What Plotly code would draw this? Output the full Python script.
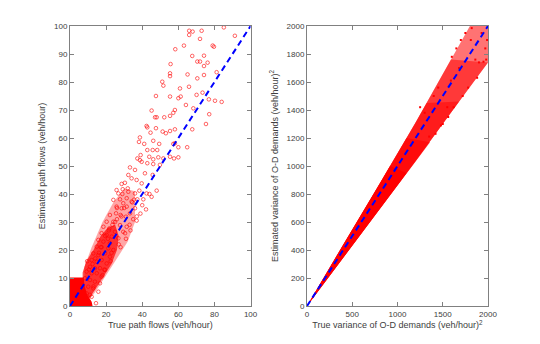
import plotly.graph_objects as go

# ---- left panel: path flows (veh/hour) ----
# single points
flow_true = [85.2, 91.3, 66, 67.9, 72.9, 66, 72, 63.1, 58.3, 79, 79.7, 67.7, 74.2, 70.5, 72, 76.2,
             74.2, 55.7, 55.4, 55.4, 65.1, 81.2, 74.2, 70.5, 51.1, 51.7, 60.9, 65.9, 55.4, 60, 61.3,
             70.1, 73.4, 76.9, 80.3, 84, 47.6, 64.2, 68.3, 45.2, 58.1, 57.2, 48, 47.1, 52.2, 55.4,
             77.1, 75.3, 67.7, 42.4, 42.8, 47.6, 44.6, 55.4, 58.1, 51.3, 53.1, 38.7, 38.2, 41.1,
             46.1, 49.4, 57.2, 58.1, 64.9, 60, 45.8, 42.8, 48.3, 37.3, 39.1, 39.7, 43.9, 46.1, 48.9,
             51.7, 55.4, 57.6, 60,
             38.7, 42.8, 33.2, 36, 41.5, 46.1, 49.8, 32.3, 28.6, 30.4, 34.1, 36.9, 39.7, 45.8, 25.8,
             29.2, 26.8, 32.3, 36, 38.4, 45.2, 48, 42.4, 24, 27.7, 31.4, 34.1, 37.3, 40.6, 29.5, 25.8,
             28.6, 31.4, 36, 42.1, 25.5, 28, 22.1, 31, 33.2, 36.9, 20.3, 24, 27.7, 31.4, 18.5, 21.8,
             24.9, 29.5, 17.5, 20.3, 23.1, 26.8, 15.7, 18.5, 22.1, 14.8, 17.5, 21.2, 24, 12.9, 15.7,
             19.4, 22.1, 12, 14.8, 17.5, 20.3, 11.1, 13.8, 16.6, 19.4, 9.2, 12, 14.8, 17.5, 8.3, 11.1,
             13.8, 16.6, 10.1, 12.9, 15.7, 9.2, 12, 10.1, 14.4,
             21, 23, 19, 26, 30, 33, 35, 27, 22.5, 16, 18, 13, 11, 25, 28.5, 34.5, 39, 44, 30.5, 21.5,
             32, 29, 35.5, 37, 40, 26, 23.5, 19.5, 17, 14, 12.5, 10.5, 9.5, 33.5, 31, 28]
flow_est = [99.5, 96.5, 98.3, 98, 98.3, 96.8, 95.4, 93, 91.7, 93, 92.6, 89.3, 89.4, 87.3, 87.3, 86.9,
            85.7, 86.4, 83.1, 82.1, 82.7, 83.5, 82.5, 81.3, 80.1, 78.7, 77.7, 78.3, 74.8, 74.2, 74.8,
            75.4, 76.2, 73.8, 73.3, 72.9, 75, 71.8, 70.6, 69.8, 70, 69, 67.4, 67.4, 67.4, 67.9,
            68.5, 65, 63.1, 64.3, 63.8, 63.5, 61.9, 62.5, 63.1, 62.3, 61.7, 60.2, 58.6, 57.9,
            59, 57.9, 57.9, 58.1, 56.7, 56.7, 55.7, 55.7, 55.7, 52.7, 53.9, 51.5, 53.3, 52.4, 53.1,
            52.7, 53.3, 52.7, 53.1,
            52.1, 51, 49.5, 48.6, 47.4, 50.7, 50.4, 46.8, 43.6, 44, 45.6, 45, 43.8, 46.8, 41.4,
            41.7, 40.2, 40.8, 40.2, 41.2, 39, 41.2, 40.2, 37.9, 38.1, 38.5, 37.3, 38.1, 38.1, 36.7, 35.5,
            34.9, 35.5, 34.9, 34.5, 33.1, 32.5, 32.5, 31.9, 33.1, 30.5, 30.1, 30.1, 28.9, 28.3, 28.3, 27.7,
            26.5, 26.5, 26, 25.4, 24.8, 24.2, 23.6, 23, 22.4, 21.2, 21, 20.6, 20, 18.8, 18.2,
            18.8, 17.6, 16.4, 15.8, 16.4, 15.2, 14, 13.5, 13.5, 12.9, 12.3, 11.7, 11.7, 10.5, 9.9, 9.3,
            8.7, 8.1, 6.9, 6.3, 5.1, 4.5, 3.3, 1.5, 1,
            24, 19, 13, 31, 35, 29, 31, 22, 16, 19, 11, 7, 4, 30, 32, 37, 33, 40, 26, 27,
            42, 40, 38, 32, 36, 35, 29, 25, 21, 17, 15, 13, 16, 27, 24, 21]

# outlines of the solid block of small flows and of the dense band above it
block_true = [0, 0, 7.6, 8.2, 9.5, 12, 12.5, 0]
block_est = [0, 10.2, 10.2, 7, 4, 1.5, 0, 0]
band_true = [8, 14, 20, 26, 32, 36, 36, 30, 24, 18, 12, 8]
band_est = [0, 5, 11, 17, 23, 30, 41, 42, 37, 30, 21, 14]
core_true = [7, 11, 15, 19, 23, 26, 27, 25, 21, 17, 13, 9, 7]
core_est = [1, 3, 7, 11, 15, 20, 25, 29, 28, 25, 20, 16, 12]

# ---- right panel: variance of O-D demands (veh/hour)^2 ----
# outlines of the cloud, from its sparse top (a) down to its solid lower part (e)
cloud_a_true = [0, 400, 800, 1200, 1600, 2000, 2000, 1880, 1800, 1600, 1200, 800, 400, 0]
cloud_a_est = [0, 345, 690, 1035, 1390, 1740, 2100, 2100, 2000, 1770, 1310, 870, 440, 0]
cloud_b_true = [0, 400, 800, 1200, 1600, 2000, 1590, 1200, 800, 400, 0]
cloud_b_est = [0, 345, 690, 1035, 1390, 1740, 1760, 1310, 870, 440, 0]
cloud_c_true = [0, 400, 800, 1200, 1600, 1680, 1322, 1200, 800, 400, 0]
cloud_c_est = [0, 345, 690, 1035, 1390, 1460, 1450, 1310, 870, 440, 0]
cloud_d_true = [0, 400, 800, 1200, 1360, 1100, 800, 400, 0]
cloud_d_est = [0, 345, 690, 1035, 1170, 1200, 870, 440, 0]
cloud_e_true = [0, 400, 800, 1100, 918, 800, 400, 0]
cloud_e_est = [0, 345, 690, 950, 1000, 870, 440, 0]
var_true = [1700, 1750, 1820, 1860, 1900, 1950, 1980, 1600, 1650, 1550, 1500, 1450, 1400, 1350, 1300,
            1250, 1920, 1970, 1880, 1780, 1720, 1620, 1560, 1480, 1420, 1810, 1680, 1590, 1990, 1930]
var_est = [1900, 1950, 1985, 1760, 1740, 1745, 1760, 1780, 1840, 1420, 1300, 1560, 1500, 1210, 1380,
           1420, 2040, 1840, 1630, 1560, 1500, 1420, 1350, 1290, 1230, 1900, 1700, 1610, 1900, 1950]

ref_flow = [0, 100]
ref_var = [0, 2000]

RED = "#ff0000"
fig = go.Figure()


def area(xs, ys, color, xa, ya):
    fig.add_trace(go.Scatter(x=xs, y=ys, fill="toself", fillcolor=color, mode="lines",
                             line=dict(width=0), hoverinfo="skip", xaxis=xa, yaxis=ya))


# left
area(band_true, band_est, "rgba(255,0,0,0.35)", "x", "y")
area(core_true, core_est, "rgba(255,0,0,0.7)", "x", "y")
area(block_true, block_est, RED, "x", "y")
fig.add_trace(go.Scatter(x=flow_true, y=flow_est, mode="markers",
                         marker=dict(symbol="circle-open", size=3.6, color=RED, line=dict(width=0.6)),
                         xaxis="x", yaxis="y"))
fig.add_trace(go.Scatter(x=ref_flow, y=ref_flow, mode="lines",
                         line=dict(color="#0000ff", width=2, dash="6px,4px"), xaxis="x", yaxis="y"))

# right
area(cloud_a_true, cloud_a_est, "rgba(255,0,0,0.55)", "x2", "y2")
area(cloud_b_true, cloud_b_est, "rgba(255,0,0,0.5)", "x2", "y2")
area(cloud_c_true, cloud_c_est, "rgba(255,0,0,0.5)", "x2", "y2")
area(cloud_d_true, cloud_d_est, "rgba(255,0,0,0.6)", "x2", "y2")
area(cloud_e_true, cloud_e_est, RED, "x2", "y2")
fig.add_trace(go.Scatter(x=var_true, y=var_est, mode="markers",
                         marker=dict(symbol="square", size=2, color=RED),
                         xaxis="x2", yaxis="y2"))
fig.add_trace(go.Scatter(x=ref_var, y=ref_var, mode="lines",
                         line=dict(color="#0000ff", width=2, dash="6px,4px"), xaxis="x2", yaxis="y2"))

axis_style = dict(showline=True, linecolor="#808080", linewidth=1, mirror="ticks",
                  ticks="inside", ticklen=4, tickcolor="#808080", showgrid=False, zeroline=False,
                  automargin=False, tickfont=dict(size=8, color="#404040"))
title_font = dict(size=9, color="#404040")

# the page body adds 8px on the left and top, so the margins are shifted by that much
fig.update_layout(
    width=540, height=344,
    margin=dict(l=62, r=60, t=18, b=46),
    paper_bgcolor="white", plot_bgcolor="white",
    font=dict(family="Liberation Sans, Arial, sans-serif"),
    showlegend=False,
    xaxis=dict(domain=[0, 0.432], range=[0, 100], dtick=20,
               title=dict(text="True path flows (veh/hour)", font=title_font, standoff=4), **axis_style),
    yaxis=dict(range=[0, 100], dtick=10,
               title=dict(text="Estimated path flows (veh/hour)", font=title_font, standoff=6), **axis_style),
    xaxis2=dict(domain=[0.567, 1], range=[0, 2000], dtick=500, anchor="y2",
                title=dict(text="True variance of O-D demands (veh/hour)<sup>2</sup>", font=title_font, standoff=4),
                **axis_style),
    yaxis2=dict(range=[0, 2000], dtick=200, anchor="x2",
                title=dict(text="Estimated variance of O-D demands (veh/hour)<sup>2</sup>", font=title_font, standoff=6),
                **axis_style),
)

fig.write_html("out.html")
